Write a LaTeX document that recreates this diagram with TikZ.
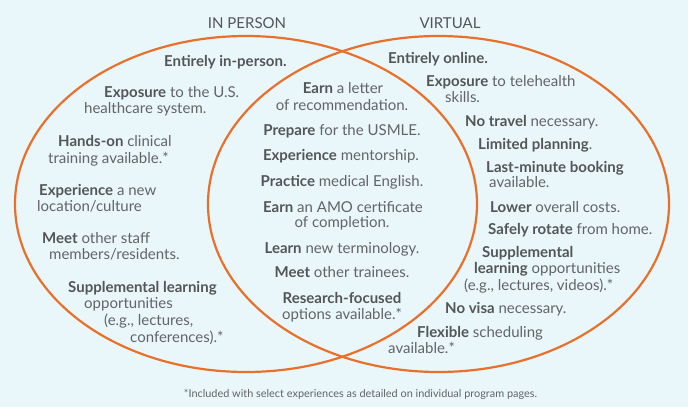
\documentclass[tikz,border=0pt]{standalone}
\usepackage{fontspec}
\setmainfont{Lato}
\definecolor{bgc}{HTML}{E9F7FA}
\definecolor{orng}{HTML}{E8702A}
\definecolor{txtc}{HTML}{636466}
\definecolor{bldc}{HTML}{545557}
\newcommand{\bx}[1]{\textbf{\color{bldc}#1}}
\begin{document}
\begin{tikzpicture}[x=1pt,y=-1pt,
  txt/.style={inner sep=0pt,text=txtc,font=\fontsize{15}{17}\selectfont},
  lft/.style={txt,anchor=base west},
  mid/.style={txt,anchor=base},
  ttl/.style={inner sep=0pt,text=bldc,anchor=base,font=\fontsize{15}{17}\selectfont},
  ring/.style={draw=orng,line width=2.2pt}]
\fill[bgc] (0,0) rectangle (688,407);
\useasboundingbox (0,0) rectangle (688,407);
\draw[ring] (246,204) ellipse [x radius=231,y radius=168];
\draw[ring] (438.5,204) ellipse [x radius=230.5,y radius=168];
\node[ttl] (t1) at (247,28) {IN PERSON};
\node[ttl] (t2) at (450,28) {VIRTUAL};
% left
\node[lft] (a1) at (164,66) {\bx{Entirely in-person.}};
\node[lft] (a2) at (104,97) {\bx{Exposure} to the U.S.};
\node[lft] (a3) at (84,113) {healthcare system.};
\node[lft] (a4) at (58,146) {\bx{Hands-on} clinical};
\node[lft] (a5) at (48,163) {training available.*};
\node[lft] (a6) at (39,195) {\bx{Experience} a new};
\node[lft] (a7) at (37,211) {location/culture};
\node[lft] (a8) at (42,243) {\bx{Meet} other staff};
\node[lft] (a9) at (49,259) {members/residents.};
\node[lft] (a10) at (68,292) {\bx{Supplemental learning}};
\node[lft] (a11) at (84,308) {opportunities};
\node[lft] (a12) at (104,325) {(e.g., lectures,};
\node[lft] (a13) at (130,342) {conferences).*};
% middle
\node[mid] (m1) at (343,93) {\bx{Earn} a letter};
\node[mid] (m2) at (342,110) {of recommendation.};
\node[mid] (m3) at (342,135) {\bx{Prepare} for the USMLE.};
\node[mid] (m4) at (341,160) {\bx{Experience} mentorship.};
\node[mid] (m5) at (342,186) {\bx{Practice} medical English.};
\node[mid] (m6) at (343,212) {\bx{Earn} an AMO certificate};
\node[mid] (m7) at (342,227) {of completion.};
\node[mid] (m8) at (342,253) {\bx{Learn} new terminology.};
\node[mid] (m9) at (342,277) {\bx{Meet} other trainees.};
\node[mid] (m10) at (342,303) {\bx{Research-focused}};
\node[mid] (m11) at (342,319) {options available.*};
% right
\node[lft] (b1) at (388,63) {\bx{Entirely online.}};
\node[lft] (b2) at (426,86) {\bx{Exposure} to telehealth};
\node[lft] (b3) at (445,102) {skills.};
\node[lft] (b4) at (465,126) {\bx{No travel} necessary.};
\node[lft] (b5) at (478,149) {\bx{Limited planning}.};
\node[lft] (b6) at (486,172) {\bx{Last-minute booking}};
\node[lft] (b7) at (489,187) {available.};
\node[lft] (b8) at (490,212) {\bx{Lower} overall costs.};
\node[lft] (b9) at (488,234) {\bx{Safely rotate} from home.};
\node[lft] (b10) at (482,257) {\bx{Supplemental}};
\node[lft] (b11) at (474,273) {\bx{learning} opportunities};
\node[lft] (b12) at (464,290) {(e.g., lectures, videos).*};
\node[lft] (b13) at (445,313) {\bx{No visa} necessary.};
\node[lft] (b14) at (417,337) {\bx{Flexible} scheduling};
\node[lft] (b15) at (388,353) {available.*};
\node[txt,anchor=base,font=\fontsize{10.9}{12}\selectfont] (fn) at (360.5,397) {*Included with select experiences as detailed on individual program pages.};
\end{tikzpicture}
\end{document}
